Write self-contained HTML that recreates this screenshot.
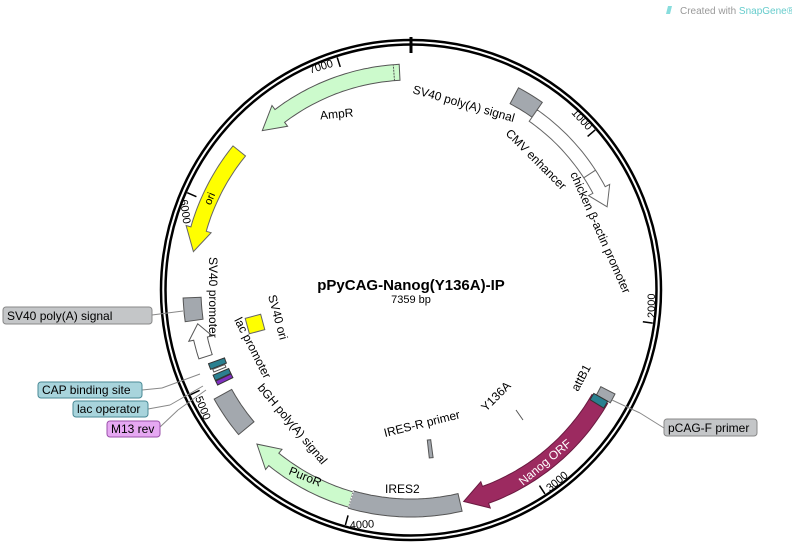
<!DOCTYPE html>
<html><head><meta charset="utf-8"><style>
body{margin:0;background:#fff;}
svg{display:block;font-family:"Liberation Sans","DejaVu Sans",sans-serif;}
</style></head><body>
<svg id="s" width="792" height="552" viewBox="0 0 792 552" xmlns="http://www.w3.org/2000/svg">
<circle cx="411" cy="290" r="250" fill="none" stroke="#000" stroke-width="2.5"/>
<circle cx="411" cy="290" r="245.5" fill="none" stroke="#000" stroke-width="2.5"/>
<line x1="411" y1="37" x2="411" y2="53" stroke="#000" stroke-width="3"/>
<g id="feat"></g>
<g font-size="12" fill="#000">
<text x="411" y="290" font-size="15" font-weight="bold" text-anchor="middle">pPyCAG-Nanog(Y136A)-IP</text>
<text x="411" y="303" font-size="11" text-anchor="middle">7359 bp</text>
<text transform="translate(322,70) rotate(-17)" font-size="11" text-anchor="middle">7000</text>
<text transform="translate(337,118) rotate(-5)" text-anchor="middle">AmpR</text>
<text transform="translate(412,93) rotate(16)">SV40 poly(A) signal</text>
<text transform="translate(505,134) rotate(45)">CMV enhancer</text>
<text transform="translate(570,174) rotate(66)">chicken β-actin promoter</text>
<text transform="translate(571,113) rotate(47)" font-size="11">1000</text>
<text transform="translate(655,318) rotate(-90)" font-size="11">2000</text>
<text transform="translate(550,492) rotate(-40)" font-size="11">3000</text>
<text transform="translate(350,529) rotate(-4)" font-size="11">4000</text>
<text transform="translate(195,398) rotate(68)" font-size="11">5000</text>
<text transform="translate(180,200) rotate(82)" font-size="11">6000</text>
<text transform="translate(209,257) rotate(90)">SV40 promoter</text>
<text transform="translate(268,296) rotate(75)">SV40 ori</text>
<text transform="translate(234,320) rotate(63)">lac promoter</text>
<text transform="translate(257,388) rotate(50)">bGH poly(A) signal</text>
<text transform="translate(288,474) rotate(22)">PuroR</text>
<text x="385" y="493">IRES2</text>
<text transform="translate(385,437) rotate(-14)">IRES-R primer</text>
<text transform="translate(486,412) rotate(-45)">Y136A</text>
<text transform="translate(578,392) rotate(-62)">attB1</text>
<text transform="translate(523,486) rotate(-40)" fill="#fff">Nanog ORF</text>
<text transform="translate(213,200) rotate(-67)" font-size="11" text-anchor="middle">ori</text>
</g>
<g stroke="#888" stroke-width="1" fill="none">
<line x1="152" y1="315" x2="183" y2="311"/>
<line x1="142" y1="390" x2="162" y2="388" /><line x1="162" y1="388" x2="200" y2="374"/>
<line x1="148" y1="409" x2="170" y2="405"/><line x1="170" y1="405" x2="203" y2="386"/>
<line x1="160" y1="427" x2="178" y2="410"/><line x1="178" y1="410" x2="206" y2="390"/>
<line x1="664" y1="428" x2="640" y2="413"/><line x1="640" y1="413" x2="612" y2="400"/>
<line x1="516" y1="410" x2="523" y2="420" stroke="#555"/>
</g>
<g font-size="12">
<rect x="3" y="307" width="149" height="17" rx="3" fill="#c4c6c8" stroke="#888"/>
<text x="7" y="320">SV40 poly(A) signal</text>
<rect x="38" y="382" width="104" height="16" rx="3" fill="#a8d4dc" stroke="#4a8a96"/>
<text x="42" y="394">CAP binding site</text>
<rect x="73" y="401" width="75" height="16" rx="3" fill="#a8d4dc" stroke="#4a8a96"/>
<text x="77" y="413">lac operator</text>
<rect x="107" y="421" width="53" height="16" rx="3" fill="#e6a8f2" stroke="#9a50aa"/>
<text x="111" y="433">M13 rev</text>
<rect x="664" y="419" width="93" height="17" rx="3" fill="#c4c6c8" stroke="#888"/>
<text x="668" y="432">pCAG-F primer</text>
</g>
<text x="680" y="14" font-size="10" fill="#999">Created with <tspan fill="#6cc">SnapGene®</tspan></text>
<polygon points="668,6 672,6 670,14 666,14" fill="#8dd"/>
</svg>
<script>
var cx=411,cy=290,NS="http://www.w3.org/2000/svg",g=document.getElementById("feat");
function P(r,t){t=t*Math.PI/180;return [cx+r*Math.sin(t),cy-r*Math.cos(t)];}
function pt(r,t){var p=P(r,t);return p[0].toFixed(1)+","+p[1].toFixed(1);}
function arc(r,a,b){var s=[],n=Math.max(2,Math.ceil(Math.abs(b-a)));for(var i=0;i<=n;i++)s.push(pt(r,a+(b-a)*i/n));return s;}
function shape(pts,fill,stroke){var e=document.createElementNS(NS,"polygon");e.setAttribute("points",pts.join(" "));e.setAttribute("fill",fill);e.setAttribute("stroke",stroke||"#555");e.setAttribute("stroke-width","1");g.appendChild(e);}
function box(r,w,a,b,fill,st){shape(arc(r+w/2,a,b).concat(arc(r-w/2,b,a)),fill,st);}
function arrow(r,w,a,b,h,fill,st){var d=b>a?1:-1,m=b-d*h;var p=arc(r+w/2,a,m);p.push(pt(r+w/2+5,m));p.push(pt(r,b));p.push(pt(r-w/2-5,m));p=p.concat(arc(r-w/2,m,a));shape(p,fill,st);}
function line(r1,r2,t,c,w,dash){var a=P(r1,t),b=P(r2,t),e=document.createElementNS(NS,"line");e.setAttribute("x1",a[0]);e.setAttribute("y1",a[1]);e.setAttribute("x2",b[0]);e.setAttribute("y2",b[1]);e.setAttribute("stroke",c||"#000");e.setAttribute("stroke-width",w||1.3);if(dash)e.setAttribute("stroke-dasharray",dash);g.appendChild(e);}
arrow(218,16,-3,-43,6,"#ccfacc","#555");
line(210,226,-4.5,"#555",1,"2,1");
box(220,18,28,35,"#a3a8ae","#555");
arrow(213,14,35,67,5,"#fff","#666");
line(206,220,57,"#666",1);
arrow(221,16,-51,-80,6,"#ffff00","#666");
box(219,18,-92,-98,"#a3a8ae","#555");
arrow(216,14,-108,-99,4,"#fff","#555");
box(207,17,-110,-111.6,"#2a8090","#333");
box(207,13,-111.8,-112.6,"#fff","#555");
box(207,17,-113.3,-114.8,"#2a8090","#333");
box(207,17,-115,-116.2,"#7f30c0","#333");
box(215,20,-119,-130,"#a3a8ae","#555");
arrow(218,16,-164,-135,6,"#ccfacc","#555");
box(218,18,-164,-193,"#a3a8ae","#555");
line(209,227,-164,"#fff",1,"2,1");
arrow(218,18,120,166,6,"#9c2a60","#6a1a40");
box(221,16,117,119.5,"#a3a8ae","#555");
box(218,16,119.5,121.5,"#2a8090","#333");
[49,97.8,146.7,195.6,244.6,293.5,342.4].forEach(function(t){line(244,234,t,"#000",1.5);});
box(160,18,172.5,173.8,"#a3a8ae","#555");
var q=document.createElementNS(NS,"rect");q.setAttribute("x",-8);q.setAttribute("y",-8);q.setAttribute("width",16);q.setAttribute("height",16);q.setAttribute("fill","#ff0");q.setAttribute("stroke","#666");q.setAttribute("transform","translate(255,324) rotate(-15)");g.appendChild(q);
</script>
</body></html>
